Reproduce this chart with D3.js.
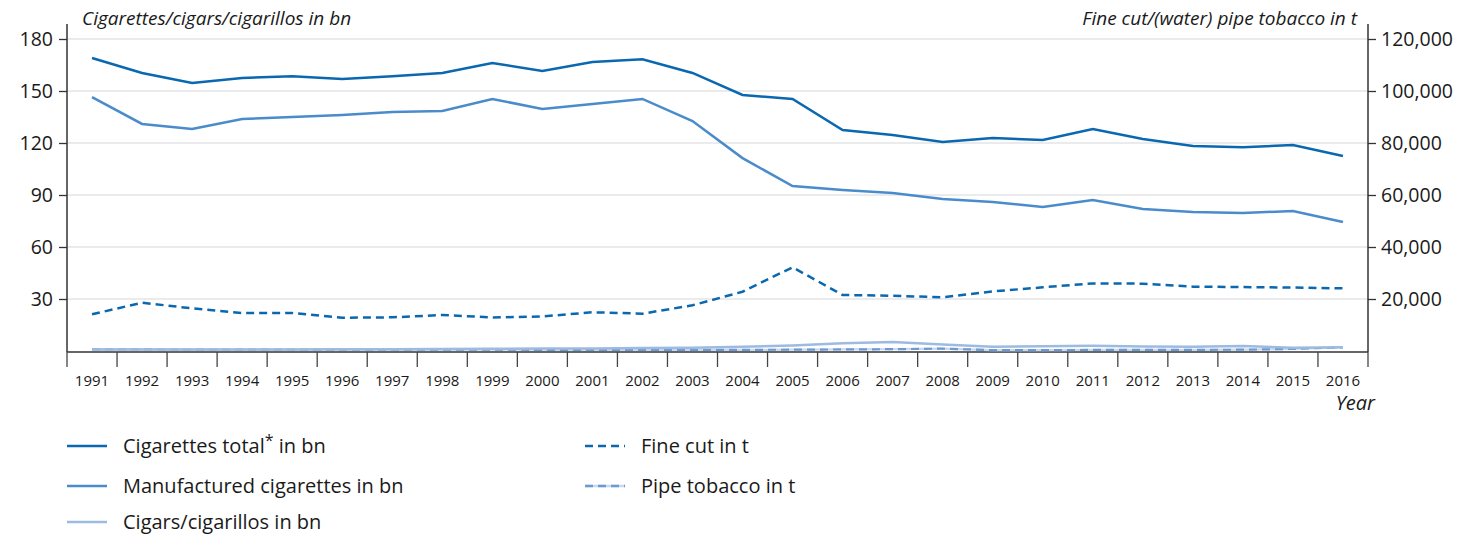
<!DOCTYPE html>
<html>
<head>
<meta charset="utf-8">
<script src="https://cdn.jsdelivr.net/npm/d3@7"></script>
<style>
  html, body { margin: 0; padding: 0; background: #fff; }
  svg { display: block; font-family: "Open Sans", "Noto Sans", sans-serif; }
</style>
</head>
<body>
<svg id="chart" width="1474" height="535"></svg>
<script>
const years = [1991,1992,1993,1994,1995,1996,1997,1998,1999,2000,2001,2002,2003,2004,2005,2006,2007,2008,2009,2010,2011,2012,2013,2014,2015,2016];
const cigarettesTotal = [169.0,160.4,154.6,157.5,158.5,156.9,158.5,160.4,166.2,161.5,166.7,168.3,160.4,147.7,145.4,127.5,124.6,120.6,122.9,121.7,128.1,122.3,118.3,117.5,118.8,112.5];
const manufactured = [146.5,131.0,128.1,133.8,135.0,136.2,137.9,138.5,145.4,139.6,142.5,145.4,132.7,111.3,95.2,92.9,91.2,87.7,86.0,83.1,87.1,81.9,80.2,79.6,80.8,74.4];
const cigars = [0.8,0.9,0.9,0.9,0.9,1.0,1.0,1.1,1.3,1.4,1.4,1.8,1.9,2.5,3.2,4.4,5.2,3.8,2.5,2.8,3.0,2.6,2.5,2.9,1.9,2.1];
const fineCut = [14100,18580,16400,14600,14600,12800,12950,13850,12900,13300,14900,14350,17580,22800,32200,21540,21270,20640,22900,24500,26000,25900,24730,24600,24400,24100];
const pipeTobacco = [600,600,550,550,500,500,500,500,500,450,450,450,450,450,500,600,700,900,350,350,400,450,450,500,800,1400];
const leftTicks = [30,60,90,120,150,180];
const rightTicks = [20000,40000,60000,80000,100000,120000];

const svg = d3.select("#chart");
const x0 = 67, x1 = 1368, yTop = 39, yBottom = 351;

const xBand = d3.scaleBand().domain(years).range([x0, x1]).padding(0);
const xPos = d => xBand(d) + xBand.bandwidth() / 2;
const yL = d3.scaleLinear().domain([0, 180]).range([yBottom, yTop]);
const yR = d3.scaleLinear().domain([0, 120000]).range([yBottom, yTop]);

// gridlines
svg.append("g").selectAll("line").data(leftTicks).join("line")
  .attr("x1", x0).attr("x2", x1)
  .attr("y1", d => yL(d)).attr("y2", d => yL(d))
  .attr("stroke", "#d8d8de").attr("stroke-width", 1.2);

// left axis
const gL = svg.append("g").attr("transform", `translate(${x0},0)`)
  .call(d3.axisLeft(yL).tickValues(leftTicks).tickSize(8).tickPadding(6).tickFormat(d3.format("d")));
gL.select(".domain").remove();
gL.selectAll(".tick line").attr("stroke", "#333").attr("stroke-width", 1.3);
gL.selectAll(".tick text").attr("fill", "#1a1a1a").style("font-size", "19.5px").style("font-family", "'Open Sans', sans-serif");
svg.append("line").attr("x1", x0).attr("x2", x0).attr("y1", 24).attr("y2", yBottom + 1)
  .attr("stroke", "#333").attr("stroke-width", 1.5);

// right axis
const gR = svg.append("g").attr("transform", `translate(${x1},0)`)
  .call(d3.axisRight(yR).tickValues(rightTicks).tickSize(8).tickPadding(5).tickFormat(d3.format(",")));
gR.select(".domain").remove();
gR.selectAll(".tick line").attr("stroke", "#333").attr("stroke-width", 1.3);
gR.selectAll(".tick text").attr("fill", "#1a1a1a").style("font-size", "19.5px").style("font-family", "'Open Sans', sans-serif");
svg.append("line").attr("x1", x1).attr("x2", x1).attr("y1", 24).attr("y2", yBottom + 1)
  .attr("stroke", "#333").attr("stroke-width", 1.5);

// bottom axis
svg.append("line").attr("x1", x0).attr("x2", x1).attr("y1", yBottom + 1).attr("y2", yBottom + 1)
  .attr("stroke", "#333").attr("stroke-width", 1.6);
const bounds = years.map(y => xBand(y)).concat([x1]);
svg.append("g").selectAll("line").data(bounds).join("line")
  .attr("x1", d => d).attr("x2", d => d)
  .attr("y1", yBottom + 1).attr("y2", yBottom + 16)
  .attr("stroke", "#444").attr("stroke-width", 1.3);
svg.append("g").selectAll("text").data(years).join("text")
  .attr("x", d => xPos(d)).attr("y", 386)
  .attr("text-anchor", "middle").attr("fill", "#1a1a1a")
  .style("font-size", "15px").text(d => d);

// titles
svg.append("text").attr("x", 82).attr("y", 25).attr("fill", "#1a1a1a")
  .style("font-size", "19px").style("font-style", "italic").text("Cigarettes/cigars/cigarillos in bn");
svg.append("text").attr("x", 1357).attr("y", 25).attr("text-anchor", "end").attr("fill", "#1a1a1a")
  .style("font-size", "19px").style("font-style", "italic").text("Fine cut/(water) pipe tobacco in t");
svg.append("text").attr("x", 1375).attr("y", 410).attr("text-anchor", "end").attr("fill", "#1a1a1a")
  .style("font-size", "20px").style("font-style", "italic").text("Year");

// colors
const cDark = "#0a68b0", cMid = "#4a8bcb", cLight = "#9dbbe0", cPipe = "#6c9bd3";

const lineL = d3.line().x((d, i) => xPos(years[i])).y(d => yL(d));
const lineR = d3.line().x((d, i) => xPos(years[i])).y(d => yR(d));

const plot = svg.append("g");
plot.append("path").datum(pipeTobacco).attr("d", lineR).attr("fill", "none")
  .attr("stroke", "#c9d8ee").attr("stroke-width", 2.2);
plot.append("path").datum(pipeTobacco).attr("d", lineR).attr("fill", "none")
  .attr("stroke", cPipe).attr("stroke-width", 2.2).attr("stroke-dasharray", "8,5");
plot.append("path").datum(cigars).attr("d", lineL).attr("fill", "none")
  .attr("stroke", cLight).attr("stroke-width", 2.5);
plot.append("path").datum(fineCut).attr("d", lineR).attr("fill", "none")
  .attr("stroke", cDark).attr("stroke-width", 2.5).attr("stroke-dasharray", "8,5");
plot.append("path").datum(manufactured).attr("d", lineL).attr("fill", "none")
  .attr("stroke", cMid).attr("stroke-width", 2.5);
plot.append("path").datum(cigarettesTotal).attr("d", lineL).attr("fill", "none")
  .attr("stroke", cDark).attr("stroke-width", 2.5);

// legend
const legendItems = [
  {label: "Cigarettes total", sup: "*", tail: " in bn", color: cDark, dash: null, x: 67, y: 446},
  {label: "Manufactured cigarettes in bn", color: cMid, dash: null, x: 67, y: 486},
  {label: "Cigars/cigarillos in bn", color: cLight, dash: null, x: 67, y: 522},
  {label: "Fine cut in t", color: cDark, dash: "8,5", x: 585, y: 446},
  {label: "Pipe tobacco in t", color: cPipe, dash: "8,5", x: 585, y: 486, under: "#c9d8ee"}
];
const lg = svg.append("g");
legendItems.forEach(it => {
  if (it.under) {
    lg.append("line").attr("x1", it.x).attr("x2", it.x + 40).attr("y1", it.y).attr("y2", it.y)
      .attr("stroke", it.under).attr("stroke-width", 2.5);
  }
  lg.append("line").attr("x1", it.x).attr("x2", it.x + 40).attr("y1", it.y).attr("y2", it.y)
    .attr("stroke", it.color).attr("stroke-width", 2.5).attr("stroke-dasharray", it.dash);
  const t = lg.append("text").attr("x", it.x + 56).attr("y", it.y + 7).attr("fill", "#1a1a1a")
    .style("font-size", "20px");
  t.append("tspan").text(it.label);
  if (it.sup) {
    t.append("tspan").attr("dy", -7).style("font-size", "16px").text(it.sup);
    t.append("tspan").attr("dy", 7).text(it.tail);
  }
});
</script>
</body>
</html>
